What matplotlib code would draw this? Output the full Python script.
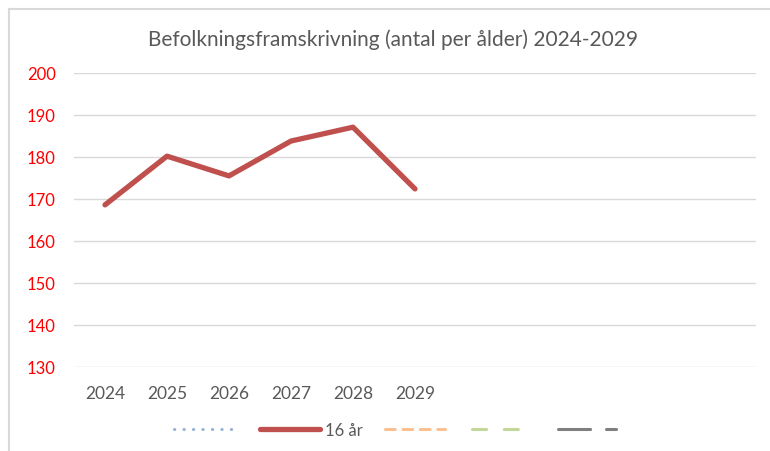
import matplotlib.pyplot as plt
import numpy as np
from matplotlib.lines import Line2D

plt.rcParams['font.family'] = ['Lato', 'DejaVu Sans']

# chart data
years = ["2024", "2025", "2026", "2027", "2028", "2029", "", "", "", "", ""]
series_names = ["", "16 år", "", "", ""]
age16 = [168.6, 180.2, 175.5, 183.8, 187.1, 172.4]
empty = []
series_values = [empty, age16, empty, empty, empty]
yticks = [130, 140, 150, 160, 170, 180, 190, 200]

colors = ["#95B3D7", "#C0504D", "#FAC090", "#C3D69B", "#7F7F7F"]
styles = [(0, (0.1, 3.0)), "-", (0, (3.2, 2.5)), (0, (4.6, 5.8)), (0, (10.5, 5.2, 3.3, 5.2))]
widths = [2.2, 3.8, 2.2, 2.2, 2.2]

fig = plt.figure(figsize=(7.7, 4.52), dpi=100)
ax = fig.add_axes([74 / 770, 1 - 368 / 452, (756 - 74) / 770, (368 - 74) / 452])

x = np.arange(len(years))
for name, vals, c, ls, lw in zip(series_names, series_values, colors, styles, widths):
    ax.plot(x[:len(vals)], vals, color=c, linestyle=ls, linewidth=lw,
            solid_capstyle='round', dash_capstyle='round', label=name)

ax.set_xlim(-0.5, len(years) - 0.5)
ax.set_ylim(130, 200)
ax.set_yticks(yticks)
ax.set_xticks(x)
ax.set_xticklabels(years)
ax.grid(axis='y', color='#D9D9D9', linewidth=1)
ax.set_axisbelow(True)
for s in ax.spines.values():
    s.set_visible(False)
ax.tick_params(axis='y', colors='red', labelsize=12, length=0, pad=13)
ax.tick_params(axis='x', colors='#595959', labelsize=12.5, length=0, pad=13)
for lbl in ax.get_yticklabels():
    lbl.set_color('red')

fig.text(393 / 770, 1 - 40 / 452, "Befolkningsframskrivning (antal per ålder) 2024-2029",
         ha='center', va='center', fontsize=15, color='#595959')

handles = [Line2D([], [], color=c, linestyle=ls, linewidth=lw,
                  solid_capstyle='round', dash_capstyle='round')
           for c, ls, lw in zip(colors, styles, widths)]
fig.legend(handles, series_names, loc='center', bbox_to_anchor=(0.517, 1 - 431 / 452),
           ncol=5, frameon=False, handlelength=3.6, columnspacing=1.35, handletextpad=0.25,
           fontsize=12, labelcolor='#595959')

# outer border (chart area frame)
fig.add_artist(Line2D([9 / 770, 9 / 770], [0, 1 - 10 / 452], color='#D9D9D9', linewidth=1.5))
fig.add_artist(Line2D([9 / 770, 1], [1 - 10 / 452, 1 - 10 / 452], color='#D9D9D9', linewidth=1.5))

fig.savefig("out.png", dpi=100)
